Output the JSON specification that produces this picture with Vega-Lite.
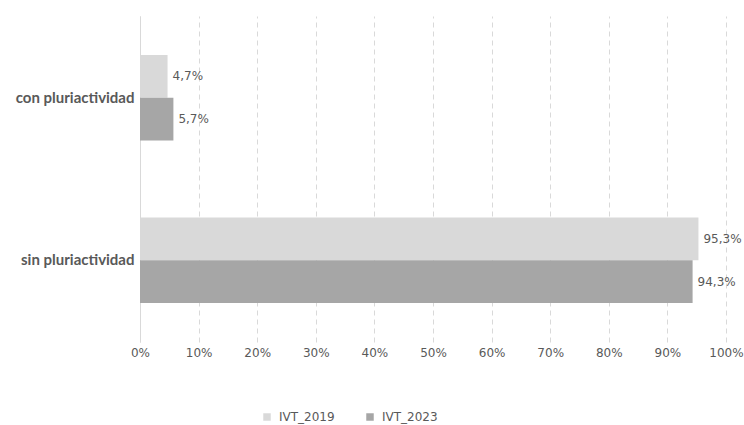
{
  "$schema": "https://vega.github.io/schema/vega-lite/v6.json",
  "width": 586,
  "height": 326,
  "autosize": "none",
  "padding": {"left": 140, "top": 16, "right": 18, "bottom": 83},
  "background": "white",
  "config": {
    "locale": {"number": {"decimal": ",", "thousands": ".", "grouping": [3], "currency": ["", " €"]}},
    "font": "DejaVu Sans",
    "view": {"stroke": null}
  },
  "data": {
    "values": [
      {"categoria": "con pluriactividad", "serie": "IVT_2019", "valor": 0.047},
      {"categoria": "con pluriactividad", "serie": "IVT_2023", "valor": 0.057},
      {"categoria": "sin pluriactividad", "serie": "IVT_2019", "valor": 0.953},
      {"categoria": "sin pluriactividad", "serie": "IVT_2023", "valor": 0.943}
    ]
  },
  "encoding": {
    "y": {
      "field": "categoria", "type": "nominal", "title": null,
      "sort": ["con pluriactividad", "sin pluriactividad"],
      "scale": {"paddingInner": 0.475, "paddingOuter": 0.24},
      "axis": {
        "ticks": false, "domain": true, "domainColor": "#d9d9d9", "domainWidth": 1,
        "labelFont": "Lato", "labelFontWeight": "bold", "labelFontSize": 15,
        "labelColor": "#595959", "labelPadding": 6, "grid": false
      }
    },
    "yOffset": {"field": "serie", "type": "nominal", "sort": ["IVT_2019", "IVT_2023"]},
    "x": {
      "field": "valor", "type": "quantitative", "title": null,
      "scale": {"domain": [0, 1], "nice": false},
      "axis": {
        "format": ".0%", "values": [0, 0.1, 0.2, 0.3, 0.4, 0.5, 0.6, 0.7, 0.8, 0.9, 1],
        "domain": false, "ticks": false, "grid": true, "gridColor": "#d9d9d9",
        "gridDash": [5, 4], "gridWidth": 1, "labelFlush": false, "labelOverlap": false,
        "labelFont": "DejaVu Sans", "labelFontSize": 12, "labelColor": "#595959",
        "labelPadding": 5
      }
    }
  },
  "layer": [
    {
      "mark": {"type": "bar"},
      "encoding": {
        "color": {
          "field": "serie", "type": "nominal",
          "scale": {"domain": ["IVT_2019", "IVT_2023"], "range": ["#d9d9d9", "#a6a6a6"]},
          "legend": {
            "title": null, "orient": "none", "direction": "horizontal",
            "legendX": 121, "legendY": 395,
            "symbolType": "square", "symbolSize": 56, "symbolStrokeWidth": 0,
            "labelFont": "DejaVu Sans", "labelFontSize": 12, "labelColor": "#595959",
            "labelOffset": 6, "columnPadding": 29, "padding": 0
          }
        }
      }
    },
    {
      "mark": {"type": "text", "align": "left", "baseline": "middle", "dx": 5, "font": "DejaVu Sans", "fontSize": 12, "color": "#595959"},
      "encoding": {
        "text": {"field": "valor", "type": "quantitative", "format": ".1%"}
      }
    }
  ]
}
